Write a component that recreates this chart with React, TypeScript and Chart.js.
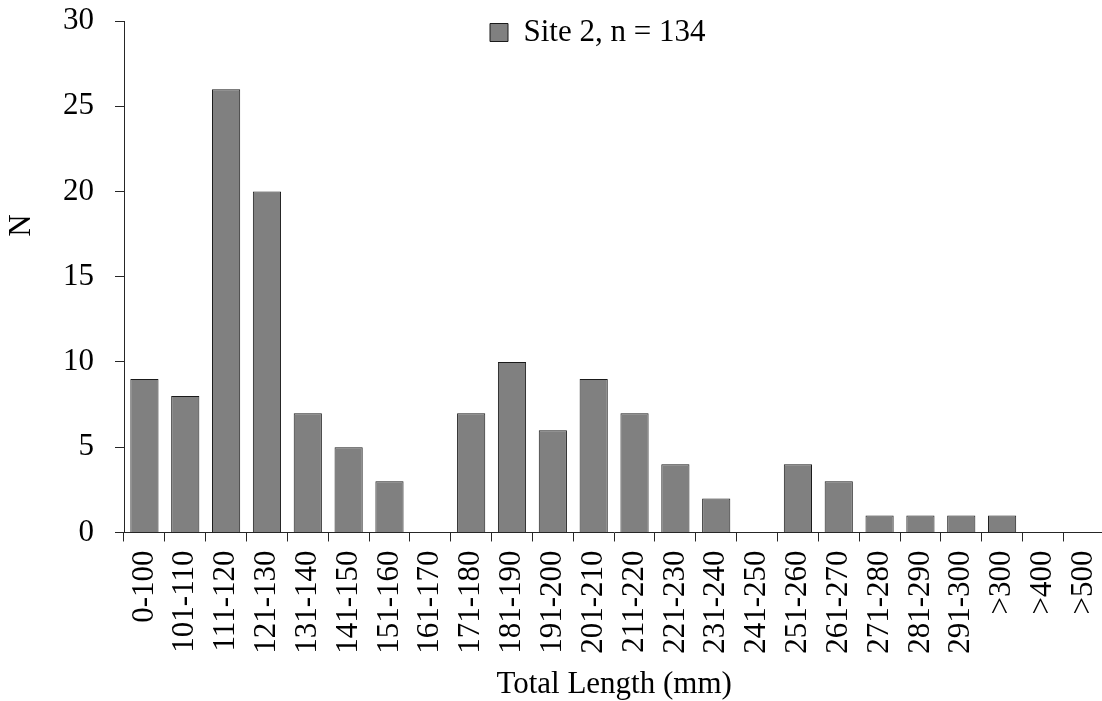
import React, { useEffect, useRef } from "react";
import { Chart, registerables } from "chart.js";

Chart.register(...registerables);

const categories: string[] = [
  "0-100", "101-110", "111-120", "121-130", "131-140", "141-150", "151-160", "161-170",
  "171-180", "181-190", "191-200", "201-210", "211-220", "221-230", "231-240", "241-250",
  "251-260", "261-270", "271-280", "281-290", "291-300", ">300", ">400", ">500",
];
const counts: number[] = [9, 8, 26, 20, 7, 5, 3, 0, 7, 10, 6, 9, 7, 4, 2, 0, 4, 3, 1, 1, 1, 1, 0, 0];
const seriesLabel = "Site 2, n = 134";
const xTitle = "Total Length (mm)";
const yTitle = "N";
const yMin = 0;
const yMax = 30;
const yStep = 5;

const FONT = "'Liberation Serif', 'Times New Roman', serif";

export default function App() {
  const ref = useRef<HTMLCanvasElement | null>(null);

  useEffect(() => {
    if (!ref.current) return;
    const placeLegend = {
      id: "placeLegend",
      beforeDraw(chart: any) {
        const lg = chart.legend;
        const ca = chart.chartArea;
        if (!lg || !ca) return;
        const h = lg.height;
        const w = lg.width;
        lg.left = ca.left + 356;
        lg.right = lg.left + w;
        lg.top = ca.top - 14;
        lg.bottom = lg.top + h;
      },
    };
    const yTitlePlugin = {
      id: "yTitlePlugin",
      afterDraw(chart: any) {
        const ctx = chart.ctx;
        const ca = chart.chartArea;
        ctx.save();
        ctx.translate(22, ca.top + (ca.bottom - ca.top) * 0.40);
        ctx.rotate(-Math.PI / 2);
        ctx.font = `31px ${FONT}`;
        ctx.fillStyle = "#000";
        ctx.textAlign = "center";
        ctx.textBaseline = "middle";
        ctx.fillText(yTitle, 0, 0);
        ctx.restore();
      },
    };
    const chart = new Chart(ref.current, {
      type: "bar",
      data: {
        labels: categories,
        datasets: [
          {
            label: seriesLabel,
            data: counts,
            backgroundColor: "#808080",
            borderColor: "#1a1a1a",
            borderWidth: 1,
            barPercentage: 0.69,
            categoryPercentage: 1,
          },
        ],
      },
      options: {
        responsive: false,
        animation: false,
        devicePixelRatio: 1,
        layout: { padding: { left: 42, right: 0, top: 0, bottom: 0 } },
        plugins: {
          legend: {
            position: "chartArea" as any,
            align: "start",
            labels: {
              boxWidth: 18,
              boxHeight: 18,
              color: "#000",
              font: { family: FONT, size: 31 },
              padding: 10,
            },
          },
          tooltip: { enabled: false },
          title: { display: false },
        },
        scales: {
          x: {
            grid: {
              offset: true,
              drawOnChartArea: false,
              drawTicks: true,
              tickLength: 9,
              color: "#262626",
            },
            border: { display: true, color: "#262626", width: 1 },
            ticks: {
              autoSkip: false,
              maxRotation: 90,
              minRotation: 90,
              padding: 9,
              color: "#000",
              font: { family: FONT, size: 31 },
            },
            title: {
              display: true,
              text: xTitle,
              color: "#000",
              font: { family: FONT, size: 31 },
              padding: { top: 3, bottom: -2 },
            },
          },
          y: {
            min: yMin,
            max: yMax,
            afterFit: (scale: any) => {
              scale.paddingTop = 21;
            },
            grid: {
              drawOnChartArea: false,
              drawTicks: true,
              tickLength: 9,
              color: "#262626",
            },
            border: { display: true, color: "#262626", width: 1 },
            ticks: {
              stepSize: yStep,
              padding: 21,
              color: "#000",
              font: { family: FONT, size: 31 },
            },
          },
        },
      },
      plugins: [placeLegend, yTitlePlugin],
    });
    return () => chart.destroy();
  }, []);

  return (
    <div style={{ position: "fixed", left: 0, top: 0, width: 1102, height: 701, overflow: "hidden", background: "#fff" }}>
      <canvas ref={ref} width={1130} height={701} style={{ width: 1130, height: 701, display: "block" }} />
    </div>
  );
}
